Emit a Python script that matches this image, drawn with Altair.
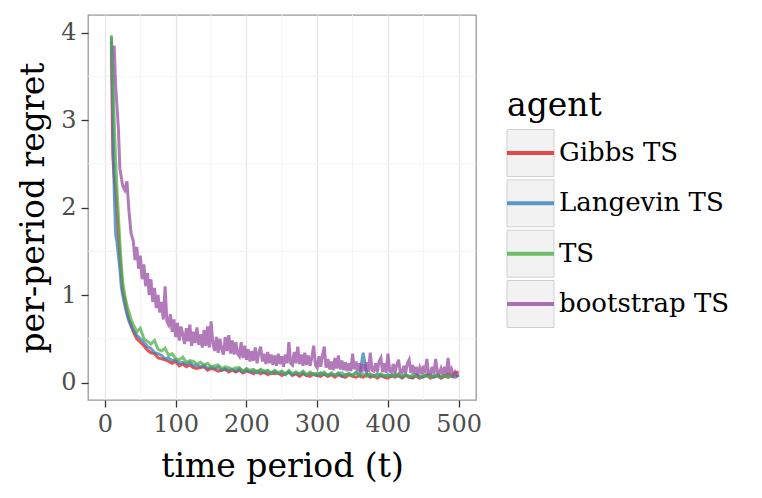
import altair as alt
import pandas as pd

agents = ["Gibbs TS", "Langevin TS", "TS", "bootstrap TS"]
colors = ["#e41a1c", "#377eb8", "#4daf4a", "#984ea3"]

t_early = [9, 11, 13, 15, 17, 19, 21, 23, 25, 28, 31, 34, 37]
t_late = list(range(40, 501, 5))
time = t_early + t_late
time_fine = t_early + [40 + 2.5 * i for i in range(185)]

gibbs = [3.90, 2.60, 2.35, 2.20, 1.95, 1.70, 1.45, 1.25, 1.05, 0.95, 0.82, 0.72, 0.66,
         0.58, 0.50, 0.46, 0.42, 0.37, 0.34, 0.33, 0.28, 0.27, 0.26,
         0.24, 0.22, 0.24, 0.19, 0.21, 0.18, 0.20, 0.17, 0.16, 0.17,
         0.18, 0.14, 0.16, 0.15, 0.13, 0.14, 0.15, 0.12, 0.14, 0.12,
         0.14, 0.11, 0.13, 0.12, 0.10, 0.13, 0.10, 0.12, 0.09, 0.11,
         0.10, 0.11, 0.08, 0.10, 0.12, 0.08, 0.10, 0.07, 0.10, 0.08,
         0.07, 0.10, 0.08, 0.07, 0.10, 0.07, 0.09, 0.06, 0.09, 0.07,
         0.06, 0.09, 0.07, 0.06, 0.08, 0.06, 0.09, 0.06, 0.08, 0.05,
         0.08, 0.06, 0.05, 0.08, 0.06, 0.09, 0.05, 0.08, 0.06, 0.05,
         0.08, 0.05, 0.07, 0.09, 0.05, 0.07, 0.08, 0.05, 0.07, 0.10,
         0.07, 0.11, 0.12]

langevin = [3.95, 3.20, 2.20, 1.70, 1.60, 1.45, 1.30, 1.10, 1.00, 0.88, 0.78, 0.70, 0.64,
            0.60, 0.54, 0.50, 0.46, 0.41, 0.39, 0.34, 0.33, 0.31, 0.27,
            0.28, 0.25, 0.26, 0.22, 0.23, 0.21, 0.23, 0.19, 0.20, 0.18,
            0.20, 0.16, 0.18, 0.16, 0.18, 0.14, 0.16, 0.14, 0.15, 0.13,
            0.16, 0.12, 0.15, 0.12, 0.14, 0.11, 0.14, 0.11, 0.13, 0.10,
            0.13, 0.10, 0.12, 0.09, 0.12, 0.09, 0.11, 0.09, 0.12, 0.08,
            0.11, 0.09, 0.08, 0.11, 0.09, 0.08, 0.10, 0.08, 0.11, 0.07,
            0.09, 0.10, 0.08, 0.12, 0.08, 0.34, 0.10, 0.08, 0.07, 0.10,
            0.08, 0.07, 0.09, 0.07, 0.10, 0.07, 0.06, 0.09, 0.07, 0.06,
            0.09, 0.07, 0.06, 0.08, 0.09, 0.06, 0.08, 0.06, 0.08, 0.06,
            0.08, 0.06, 0.08]

ts = [3.97, 3.50, 3.00, 2.55, 2.20, 1.90, 1.60, 1.35, 1.15, 1.00, 0.88, 0.80, 0.72,
      0.66, 0.58, 0.62, 0.50, 0.47, 0.44, 0.48, 0.38, 0.36, 0.39,
      0.31, 0.33, 0.27, 0.26, 0.29, 0.23, 0.25, 0.24, 0.21, 0.23,
      0.20, 0.22, 0.18, 0.19, 0.20, 0.16, 0.18, 0.17, 0.15, 0.17,
      0.17, 0.13, 0.16, 0.14, 0.15, 0.12, 0.15, 0.13, 0.14, 0.11,
      0.14, 0.11, 0.13, 0.10, 0.14, 0.10, 0.12, 0.10, 0.13, 0.09,
      0.12, 0.09, 0.11, 0.09, 0.12, 0.08, 0.11, 0.08, 0.10, 0.11,
      0.08, 0.10, 0.08, 0.11, 0.08, 0.10, 0.07, 0.10, 0.08, 0.07,
      0.10, 0.08, 0.07, 0.09, 0.07, 0.10, 0.07, 0.09, 0.06, 0.09,
      0.07, 0.06, 0.09, 0.07, 0.06, 0.08, 0.09, 0.06, 0.08, 0.06,
      0.08, 0.09, 0.07]

bootstrap = [None, None, 3.85, 3.40, 3.15, 2.90, 2.45, 2.35, 2.25, 2.20, 2.30, 1.95, 1.70,
             1.62, 1.40, 1.55, 1.30, 1.45, 1.18, 1.35, 1.10, 1.25, 1.00,
             1.18, 0.92, 1.08, 0.85, 1.00, 0.80, 0.92, 0.72, 1.10, 0.70,
             0.66, 0.78, 0.58, 0.72, 0.52, 0.68, 0.48, 0.64, 0.55, 0.44,
             0.62, 0.47, 0.66, 0.42, 0.58, 0.45, 0.63, 0.43, 0.55, 0.40,
             0.60, 0.42, 0.64, 0.40, 0.70, 0.45, 0.36, 0.52, 0.34, 0.50,
             0.38, 0.32, 0.52, 0.36, 0.54, 0.33, 0.48, 0.32, 0.46, 0.33,
             0.30, 0.46, 0.28, 0.42, 0.26, 0.38, 0.24, 0.36, 0.25, 0.40,
             0.22, 0.34, 0.41, 0.24, 0.33, 0.21, 0.35, 0.22, 0.32, 0.20,
             0.31, 0.19, 0.33, 0.21, 0.30, 0.18, 0.32, 0.22, 0.46, 0.22,
             0.20, 0.35, 0.22, 0.41, 0.21, 0.32, 0.19, 0.34, 0.20, 0.31,
             0.19, 0.29, 0.42, 0.20, 0.17, 0.30, 0.18, 0.31, 0.41, 0.17,
             0.27, 0.15, 0.24, 0.14, 0.28, 0.16, 0.31, 0.15, 0.25, 0.14,
             0.23, 0.13, 0.22, 0.13, 0.33, 0.15, 0.24, 0.13, 0.22, 0.12,
             0.21, 0.13, 0.23, 0.12, 0.34, 0.14, 0.13, 0.22, 0.12, 0.24,
             0.28, 0.12, 0.22, 0.11, 0.33, 0.13, 0.12, 0.21, 0.11, 0.20,
             0.26, 0.12, 0.11, 0.19, 0.11, 0.22, 0.26, 0.11, 0.20, 0.10,
             0.18, 0.10, 0.17, 0.10, 0.19, 0.11, 0.27, 0.10, 0.10, 0.18,
             0.10, 0.27, 0.12, 0.10, 0.16, 0.09, 0.18, 0.10, 0.28, 0.10,
             0.15, 0.08, 0.12, 0.08, 0.09]

x_ticks = [0, 100, 200, 300, 400, 500]
y_ticks = [0, 1, 2, 3, 4]
x_minor = [50, 150, 250, 350, 450]
y_minor = [0.5, 1.5, 2.5, 3.5]

rows = []
for name, series, tt in zip(agents, [gibbs, langevin, ts, bootstrap],
                            [time, time, time, time_fine]):
    for t, v in zip(tt, series):
        if v is not None:
            rows.append({"t": t, "regret": v, "agent": name})
df = pd.DataFrame(rows)

FONT = "DejaVu Serif"
xscale = alt.Scale(domain=[-24, 524.5], nice=False, zero=False)
yscale = alt.Scale(domain=[-0.2, 4.2], nice=False, zero=False)
cscale = alt.Scale(domain=agents, range=colors)
xaxis = alt.Axis(values=x_ticks, titlePadding=14)

vgrid = alt.Chart(pd.DataFrame({"v": x_minor})).mark_rule(
    color="#f4f4f4", strokeWidth=1
).encode(x=alt.X("v:Q", scale=xscale, title="time period (t)", axis=xaxis))

hgrid = alt.Chart(pd.DataFrame({"v": y_minor})).mark_rule(
    color="#f4f4f4", strokeWidth=1
).encode(y=alt.Y("v:Q", scale=yscale, axis=None))

lines = alt.Chart(df).mark_line(strokeWidth=3.0, opacity=0.75).encode(
    x=alt.X("t:Q", scale=xscale, title="time period (t)", axis=xaxis),
    y=alt.Y("regret:Q", scale=yscale, title="per-period regret",
            axis=alt.Axis(values=y_ticks, titlePadding=10)),
    color=alt.Color("agent:N", scale=cscale, legend=None),
    detail="agent:N",
)

leg_df = pd.DataFrame({"agent": agents})
lyscale = alt.Scale(type="point", domain=agents, range=[138, 289], padding=0)

leg_box = alt.Chart(leg_df).mark_square(
    size=47 * 47, fill="#f2f2f2", stroke="#d0d0d0", strokeWidth=1, opacity=1
).encode(
    x=alt.value(442.5),
    y=alt.Y("agent:N", scale=lyscale, axis=None),
)

leg_line = alt.Chart(leg_df).mark_rule(strokeWidth=4, opacity=0.8).encode(
    x=alt.value(419), x2=alt.value(466),
    y=alt.Y("agent:N", scale=lyscale, axis=None),
    color=alt.Color("agent:N", scale=cscale, legend=None),
)

leg_text = alt.Chart(leg_df).mark_text(
    align="left", baseline="middle", font=FONT, fontSize=26, color="black"
).encode(
    x=alt.value(471),
    y=alt.Y("agent:N", scale=lyscale, axis=None),
    text="agent:N",
)

leg_title = alt.Chart(pd.DataFrame({"title": ["agent"]})).mark_text(
    align="left", baseline="alphabetic", font=FONT, fontSize=33, color="black"
).encode(
    x=alt.value(419), y=alt.value(101), text="title:N"
)

chart = alt.layer(
    vgrid, hgrid, lines, leg_box, leg_line, leg_text, leg_title
).resolve_scale(y="independent").properties(
    width=388, height=385, padding={"left": 9, "top": 6, "right": 5, "bottom": 5}
).configure_axis(
    labelFont=FONT, labelFontSize=24, labelColor="#4d4d4d",
    titleFont=FONT, titleFontSize=33, titleFontWeight="normal", titleColor="black",
    tickColor="#333333", tickSize=7, tickWidth=1.3, domain=False,
    gridColor="#e6e6e6", gridWidth=1.3, labelPadding=5,
).configure_view(stroke="#999999", strokeWidth=1.3)

chart.save("out.html", embed_options={"renderer": "svg", "actions": False})
